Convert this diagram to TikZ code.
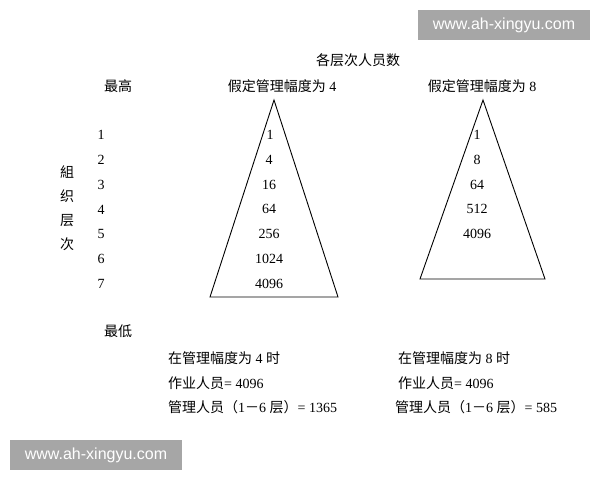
\documentclass[tikz,border=0pt]{standalone}
\usepackage{fontspec}
\usetikzlibrary{positioning}
\setmainfont{Liberation Serif}
\setsansfont{Liberation Sans}
\newfontfamily\cjk{Noto Sans CJK SC}
\newcommand\zh[1]{{\cjk #1}}

\begin{document}
\begin{tikzpicture}[x=1pt, y=-1pt, node distance=24.8pt]
  \tikzstyle{txt} = [inner sep=0pt, font=\fontsize{14}{16}\selectfont]
  \tikzstyle{wmark} = [fill=black!35, text=white, inner sep=0pt, font=\sffamily\fontsize{16}{18}\selectfont,
                                    minimum width=172pt, minimum height=30pt]
  \tikzstyle{pyramid} = [line width=0.9pt, line join=miter]

\useasboundingbox (0,0) rectangle (600,480);

\node[wmark] (wtop) at (504,25) {www.ah-xingyu.com};
\node[wmark] (wbot) at (96,455) {www.ah-xingyu.com};

\node[txt] (title) at (358,60) {\zh{各层次人员数}};
\node[txt] (high) at (118,86) {\zh{最高}};
\node[txt] (headA) at (282,86) {\zh{假定管理幅度为} 4};
\node[txt] (headB) at (482,86) {\zh{假定管理幅度为} 8};

% levels
\node[txt] (l1) at (101,135) {1};
\node[txt, below of=l1] (l2) {2};
\node[txt, below of=l2] (l3) {3};
\node[txt, below of=l3] (l4) {4};
\node[txt, below of=l4] (l5) {5};
\node[txt, below of=l5] (l6) {6};
\node[txt, below of=l6] (l7) {7};
\node[txt, align=center, font=\cjk\fontsize{14}{24}\selectfont] (org) at (67,208) {組\\织\\层\\次};

% span 4
\coordinate (Atop) at (274,100);
\coordinate (Aleft) at (210,297);
\coordinate (Aright) at (338,297);
\draw[pyramid] (Atop) -- (Aleft) -- (Aright) -- cycle;
\node[txt] (a1) at (270,135) {1};
\node[txt, below of=a1, xshift=-1pt] (a2) {4};
\node[txt, below of=a2] (a3) {16};
\node[txt, below of=a3] (a4) {64};
\node[txt, below of=a4] (a5) {256};
\node[txt, below of=a5] (a6) {1024};
\node[txt, below of=a6] (a7) {4096};

% span 8
\coordinate (Btop) at (483,100);
\coordinate (Bleft) at (420,279);
\coordinate (Bright) at (545,279);
\draw[pyramid] (Btop) -- (Bleft) -- (Bright) -- cycle;
\node[txt] (b1) at (477,135) {1};
\node[txt, below of=b1] (b2) {8};
\node[txt, below of=b2] (b3) {64};
\node[txt, below of=b3] (b4) {512};
\node[txt, below of=b4] (b5) {4096};

\node[txt] (low) at (118,331) {\zh{最低}};

% totals
\node[txt, anchor=west] (sumA) at (168,358) {\zh{在管理幅度为} 4 \zh{时}};
\node[txt, below=of sumA.west, anchor=west] (workA) {\zh{作业人员}= 4096};
\node[txt, below=of workA.west, anchor=west] (mgrA) {\zh{管理人员（}1\zh{－}6 \zh{层）}= 1365};
\node[txt, anchor=west] (sumB) at (398,358) {\zh{在管理幅度为} 8 \zh{时}};
\node[txt, below=of sumB.west, anchor=west] (workB) {\zh{作业人员}= 4096};
\node[txt, below=of workB.west, anchor=west, xshift=-3pt] (mgrB) {\zh{管理人员（}1\zh{－}6 \zh{层）}= 585};
\end{tikzpicture}
\end{document}
